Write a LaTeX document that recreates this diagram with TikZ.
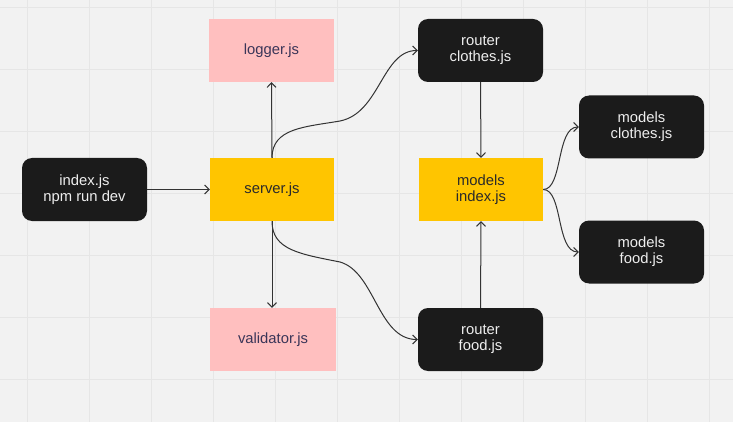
\documentclass[tikz,border=0pt]{standalone}
\usepackage{fontspec}
\setmainfont{Liberation Sans}
\usetikzlibrary{arrows.meta}
\definecolor{bgc}{HTML}{F2F2F2}
\definecolor{gridc}{HTML}{E6E6E6}
\definecolor{darkbox}{HTML}{1B1B1B}
\definecolor{lighttext}{HTML}{EEEEEE}
\definecolor{pinkbox}{HTML}{FFBFBF}
\definecolor{pinktext}{HTML}{3A3558}
\definecolor{yellowbox}{HTML}{FFC500}
\definecolor{yellowtext}{HTML}{2A2A2A}
\definecolor{linec}{HTML}{333333}
\tikzset{
  base/.style={inner sep=0pt, align=center, minimum width=125pt, minimum height=63pt,
    font=\fontsize{14.8}{16}\selectfont},
  darknode/.style={base, fill=darkbox, text=lighttext, rounded corners=10pt},
  pinknode/.style={base, fill=pinkbox, text=pinktext},
  yellownode/.style={base, fill=yellowbox, text=yellowtext},
  conn/.style={draw=linec, line width=1pt, -{Straight Barb[length=4.5pt,width=9pt,line width=1pt]}}
}
\begin{document}
\begin{tikzpicture}[x=1pt,y=-1pt]
\useasboundingbox (0,0) rectangle (733,422);
\fill[bgc] (0,0) rectangle (733,422);
\foreach \gx in {27,89,...,709} \draw[gridc, line width=0.7pt] (\gx,0) -- (\gx,422);
\foreach \gy in {7,69,...,379} \draw[gridc, line width=0.7pt] (0,\gy) -- (733,\gy);

\node[darknode] (index) at (84.5,189.5) {index.js\\npm run dev};
\node[yellownode, minimum width=124pt] (server) at (272,189.5) {server.js};
\node[pinknode] (logger) at (271.5,50.5) {logger.js};
\node[pinknode, minimum width=126pt] (validator) at (273,339.5) {validator.js};
\node[darknode] (rclothes) at (480.5,50.5) {router\\clothes.js};
\node[darknode] (rfood) at (480.5,339.5) {router\\food.js};
\node[yellownode, minimum width=124pt] (mindex) at (481,189.5) {models\\index.js};
\node[darknode] (mclothes) at (641.5,127) {models\\clothes.js};
\node[darknode] (mfood) at (641.5,252) {models\\food.js};

\draw[conn] (index.east) -- (server.west);
\draw[conn] (server.north) -- (logger.south);
\draw[conn] (server.south) -- (server.south |- validator.north);
\draw[conn] (server.north) .. controls (272,128) and (305,127) .. (340,121)
  .. controls (380,113) and (382,50.5) .. (rclothes.west);
\draw[conn] (server.south) .. controls (272,250) and (300,254) .. (340,262)
  .. controls (375,272) and (378,339.5) .. (rfood.west);
\draw[conn] (rclothes.south) -- (mindex.north);
\draw[conn] (rfood.north) -- (mindex.south);
\draw[conn] (mindex.east) .. controls (563,189.5) and (556,127) .. (mclothes.west);
\draw[conn] (mindex.east) .. controls (563,189.5) and (556,252) .. (mfood.west);
\end{tikzpicture}
\end{document}
